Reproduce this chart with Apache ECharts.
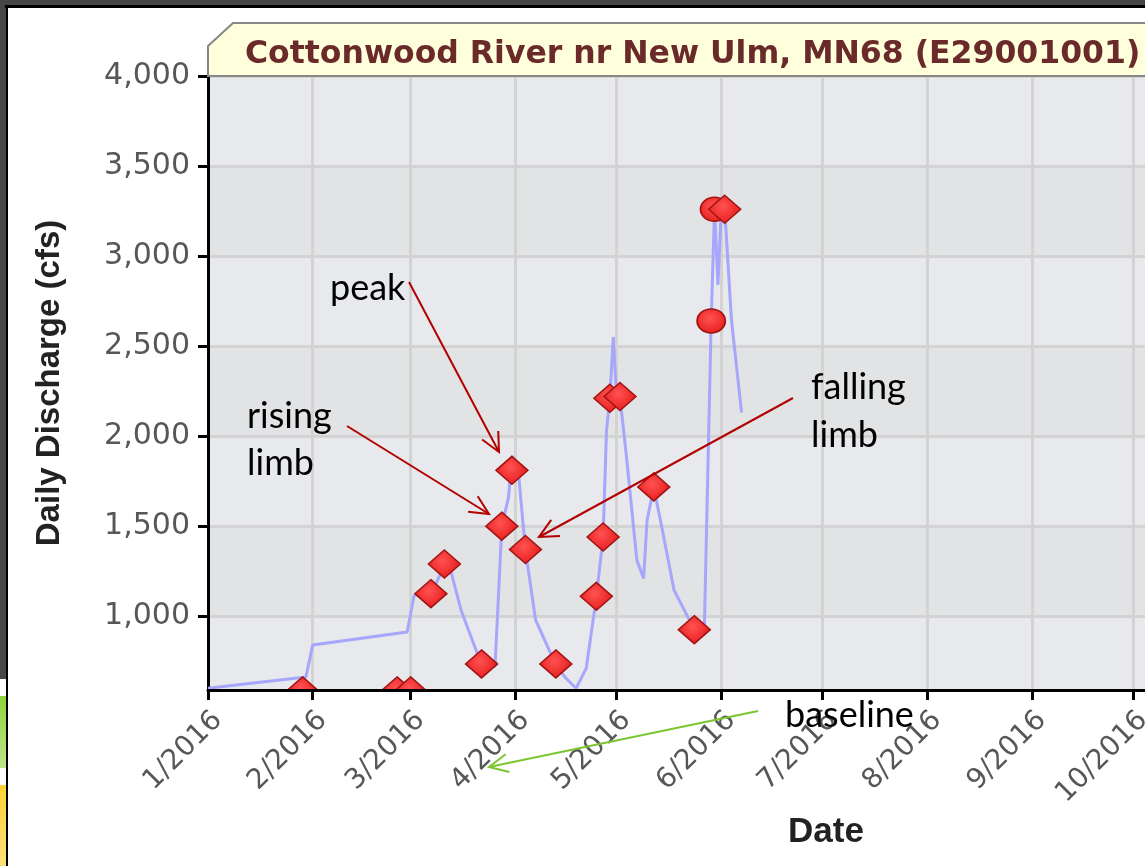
<!DOCTYPE html>
<html><head><meta charset="utf-8">
<script src="https://cdn.jsdelivr.net/npm/echarts@6/dist/echarts.min.js"></script>
<style>html,body{margin:0;padding:0;background:#fff;overflow:hidden;width:1145px;height:866px}#c{width:1444px;height:866px}</style>
</head><body><div id="c"></div>
<script>
// ---- data ----
const chartTitle = 'Cottonwood River nr New Ulm, MN68 (E29001001)';
const yAxisTitle = 'Daily Discharge (cfs)';
const xAxisTitle = 'Date';
const xRange = ['2016-01-01', '2017-01-01'];
const yRange = [590, 4000];

const lineDates = ['2016-01-01','2016-01-30','2016-02-01','2016-02-29','2016-03-02','2016-03-07','2016-03-09','2016-03-11','2016-03-13','2016-03-16','2016-03-22','2016-03-26','2016-03-28','2016-03-30','2016-03-31','2016-04-02','2016-04-04','2016-04-07','2016-04-13','2016-04-16','2016-04-19','2016-04-22','2016-04-25','2016-04-27','2016-04-28','2016-04-29','2016-04-30','2016-05-01','2016-05-02','2016-05-04','2016-05-07','2016-05-09','2016-05-10','2016-05-12','2016-05-14','2016-05-18','2016-05-24','2016-05-27','2016-05-29','2016-05-30','2016-05-31','2016-06-01','2016-06-02','2016-06-04','2016-06-07'];
const lineValues = [600,662,840,912,1115,1122,1200,1285,1245,1030,730,722,1500,1660,1890,1780,1367,980,730,655,600,710,1105,1440,2030,2210,2550,2220,2215,1870,1310,1210,1530,1715,1530,1145,925,950,2640,3265,2840,3265,3265,2645,2130];

const markerDates = ['2016-01-29','2016-02-26','2016-03-01','2016-03-07','2016-03-11','2016-03-22','2016-03-28','2016-03-31','2016-04-04','2016-04-13','2016-04-25','2016-04-27','2016-04-29','2016-05-02','2016-05-12','2016-05-24','2016-05-29','2016-05-30','2016-06-02'];
const markerValues = [585,585,585,1125,1290,735,1500,1810,1370,735,1110,1440,2210,2220,1718,925,2640,3260,3260];
const markerShapes = ['diamond','diamond','diamond','diamond','diamond','diamond','diamond','diamond','diamond','diamond','diamond','diamond','diamond','diamond','diamond','diamond','circle','circle','diamond'];

const annotations = [
  {text:'peak', x:330, y:288},
  {text:'rising', x:247, y:416},
  {text:'limb', x:247, y:463},
  {text:'falling', x:811, y:387},
  {text:'limb', x:811, y:435},
  {text:'baseline', x:785, y:715}
];

// ---- helpers (styling only) ----
function arrow(x1, y1, x2, y2, color) {
  const ang = Math.atan2(y2 - y1, x2 - x1), L = 21, a = 0.45;
  const p1 = [x2 - L * Math.cos(ang - a), y2 - L * Math.sin(ang - a)];
  const p2 = [x2 - L * Math.cos(ang + a), y2 - L * Math.sin(ang + a)];
  return [
    {type:'line', z:100, shape:{x1, y1, x2, y2}, style:{stroke:color, lineWidth:2}},
    {type:'polyline', z:100, shape:{points:[p1, [x2, y2], p2]}, style:{stroke:color, lineWidth:2, fill:null}}
  ];
}

const chart = echarts.init(document.getElementById('c'));
const lineData = lineDates.map((d, i) => [d, lineValues[i]]);
const markerData = markerDates.map((d, i) => [d, markerValues[i], markerShapes[i] === 'circle' ? 1 : 0]);

const graphics = [
  // screenshot frame
  {type:'rect', z:50, shape:{x:0, y:0, width:1444, height:5}, style:{fill:'#464646'}},
  {type:'rect', z:51, shape:{x:5, y:5, width:1440, height:3}, style:{fill:'#000'}},
  {type:'rect', z:50, shape:{x:0, y:0, width:6, height:679}, style:{fill:'#464646'}},
  {type:'rect', z:50, shape:{x:0, y:696, width:6, height:72}, style:{fill:new echarts.graphic.LinearGradient(0,0,0,1,[{offset:0,color:'#8fd33a'},{offset:1,color:'#bde68a'}])}},
  {type:'rect', z:50, shape:{x:0, y:785, width:6, height:81}, style:{fill:new echarts.graphic.LinearGradient(0,0,0,1,[{offset:0,color:'#fdd234'},{offset:1,color:'#fde07a'}])}},
  {type:'rect', z:51, shape:{x:6, y:5, width:2, height:861}, style:{fill:'#000'}},
  // title box
  {type:'polygon', z:1, shape:{points:[[208,76],[208,46],[233,23],[1460,23],[1460,76]]}, style:{fill:'#ffffdc', stroke:'#878787', lineWidth:2}}
];
annotations.forEach(a => graphics.push({type:'text', z:100, x:a.x, y:a.y, style:{text:a.text, fill:'#000', font:'36px Lato', verticalAlign:'middle', align:'left'}}));
graphics.push(...arrow(409, 282, 499, 452, '#b30000'));
graphics.push(...arrow(347, 426, 489, 514, '#b30000'));
graphics.push(...arrow(793, 398, 539, 537, '#b30000'));
graphics.push(...arrow(758, 711, 489, 767, '#7cc62f'));

const axisLabelStyle = {fontFamily:'DejaVu Sans', fontSize:30, color:'#575757', fontWeight:'normal'};

chart.setOption({
  animation:false,
  backgroundColor:'#ffffff',
  title:{text:chartTitle, left:240, top:34, textStyle:{fontFamily:'DejaVu Sans', fontWeight:'bold', fontSize:31.5, color:'#6b2a2a'}},
  grid:{left:208, top:76, right:0, bottom:176},
  graphic:graphics,
  xAxis:[{
    type:'time', min:xRange[0], max:xRange[1], splitNumber:12,
    minInterval:28*86400000, maxInterval:31*86400000,
    name:xAxisTitle, nameLocation:'middle', nameGap:122,
    nameTextStyle:{fontFamily:'Liberation Sans', fontWeight:'bold', fontSize:35, color:'#222'},
    axisLine:{show:false}, axisTick:{show:false},
    axisLabel:Object.assign({}, axisLabelStyle, {fontSize:28, rotate:45, margin:16, verticalAlign:'top', formatter:'{M}/{yyyy}', hideOverlap:false}),
    splitLine:{show:true, lineStyle:{color:'#d3d3d3', width:3}}
  },{
    type:'time', min:xRange[0], max:xRange[1], splitNumber:12, position:'bottom',
    minInterval:28*86400000, maxInterval:31*86400000, z:5,
    axisLine:{show:true, lineStyle:{color:'#000', width:3}},
    axisTick:{show:true, length:10, lineStyle:{color:'#000', width:3}},
    axisLabel:{show:false}, splitLine:{show:false}
  }],
  yAxis:{
    type:'value', min:yRange[0], max:yRange[1], minInterval:500, maxInterval:500, splitNumber:7,
    name:yAxisTitle, nameLocation:'middle', nameRotate:90, nameGap:142,
    nameTextStyle:{fontFamily:'Liberation Sans', fontWeight:'bold', fontSize:33, color:'#222'},
    axisLine:{show:true, lineStyle:{color:'#000', width:3}},
    axisTick:{show:true, length:10, lineStyle:{color:'#000', width:3}},
    axisLabel:Object.assign({margin:18, showMinLabel:false, formatter:v => v.toLocaleString('en-US')}, axisLabelStyle),
    splitLine:{show:true, lineStyle:{color:'#d3d3d3', width:3}},
    splitArea:{show:true, areaStyle:{color:['#e7e9ec','#e2e3e5']}}
  },
  series:[{
    type:'line', data:lineData, showSymbol:false, symbol:'none', z:2,
    lineStyle:{color:'#a6a6fc', width:3}
  },{
    type:'custom', data:markerData, clip:true, z:3,
    renderItem(params, api) {
      const p = api.coord([api.value(0), api.value(1)]);
      const fill = new echarts.graphic.RadialGradient(0.45, 0.4, 0.75, [{offset:0, color:'#ff5252'}, {offset:1, color:'#e31212'}]);
      const style = {fill, stroke:'#a01414', lineWidth:1.5};
      if (api.value(2) === 1) {
        return {type:'circle', x:p[0], y:p[1], scaleX:1.17, shape:{cx:0, cy:0, r:12}, style};
      }
      return {type:'polygon', x:p[0], y:p[1], shape:{points:[[0,-14],[16,0],[0,14],[-16,0]]}, style};
    }
  }]
});
</script></body></html>
